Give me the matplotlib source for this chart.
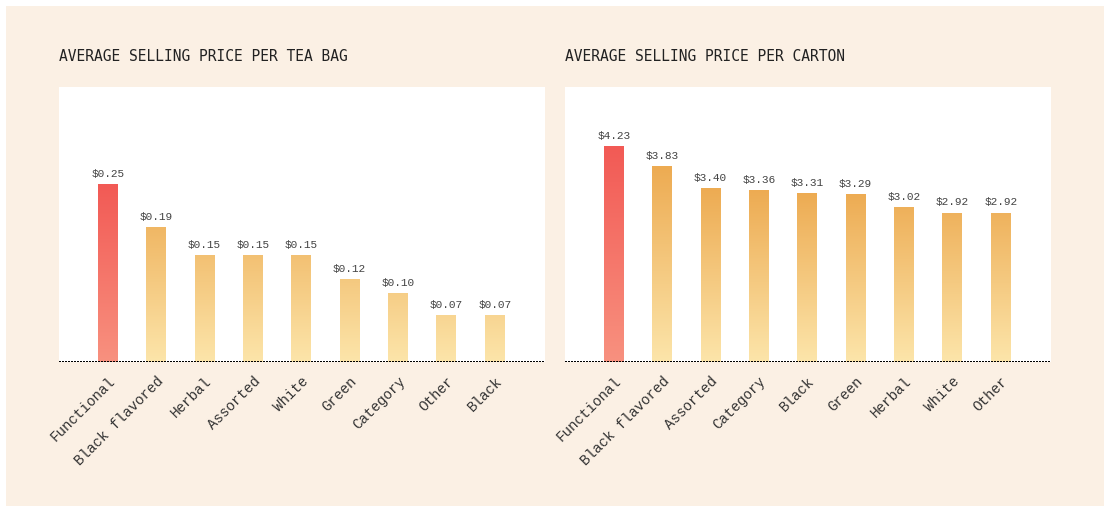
import numpy as np
import matplotlib.pyplot as plt
from matplotlib.colors import LinearSegmentedColormap
from matplotlib.patches import Rectangle
import matplotlib.transforms as mtransforms

plt.rcParams["lines.scale_dashes"] = False

# ======================================================
# Data
# ======================================================
bag_categories = ["Functional", "Black flavored", "Herbal", "Assorted", "White",
                  "Green", "Category", "Other", "Black"]
bag_prices = [0.25, 0.19, 0.15, 0.15, 0.15, 0.117, 0.097, 0.066, 0.066]
bag_labels = ["$0.25", "$0.19", "$0.15", "$0.15", "$0.15", "$0.12", "$0.10", "$0.07", "$0.07"]

carton_categories = ["Functional", "Black flavored", "Assorted", "Category", "Black",
                     "Green", "Herbal", "White", "Other"]
carton_prices = [4.23, 3.83, 3.40, 3.36, 3.31, 3.29, 3.02, 2.92, 2.92]
carton_labels = ["$4.23", "$3.83", "$3.40", "$3.36", "$3.31", "$3.29", "$3.02", "$2.92", "$2.92"]

BG = "#FBF0E4"
RED = LinearSegmentedColormap.from_list("red", ["#F8917F", "#F25A55"])
ORANGE = LinearSegmentedColormap.from_list("orange", ["#FCE5AA", "#EDAB52"])


def gradient_bars(ax, values, ymax, width=0.41):
    # colour depends on absolute height, so short bars stay pale
    href = ymax * 0.62
    for i, v in enumerate(values):
        top = min(1.0, v / href)
        grad = np.linspace(0, top, 256).reshape(-1, 1)
        cmap = RED if i == 0 else ORANGE
        ax.imshow(grad, cmap=cmap, vmin=0, vmax=1, origin="lower", aspect="auto",
                  extent=(i - width / 2, i + width / 2, 0, v), zorder=2)


def draw_panel(fig, rect, title, cats, vals, labels, ymax):
    ax = fig.add_axes(rect)
    ax.set_facecolor("white")
    gradient_bars(ax, vals, ymax)
    for i, (v, lab) in enumerate(zip(vals, labels)):
        ax.annotate(lab, (i, v), xytext=(0, 4), textcoords="offset points",
                    ha="center", va="bottom", fontsize=8, color="#444444",
                    family="Liberation Mono")
    ax.set_xlim(-1.01, 9.04)
    ax.set_ylim(0, ymax)
    ax.axhline(0, color="black", lw=2, linestyle=(0, (0.9, 1.3)), zorder=3,
               dash_capstyle="butt", antialiased=False)
    ax.set_xticks(range(len(cats)))
    ax.set_xticklabels(cats, rotation=45, ha="right", rotation_mode="anchor",
                       fontsize=10.3, color="#333333", family="Liberation Mono")
    shift = mtransforms.ScaledTranslation(4 / 100, 0, fig.dpi_scale_trans)
    for t in ax.get_xticklabels():
        t.set_transform(t.get_transform() + shift)
    ax.tick_params(axis="x", length=0, pad=9)
    ax.set_yticks([])
    for s in ax.spines.values():
        s.set_visible(False)
    fig.text(rect[0], 0.888, title, fontsize=10.5, color="#222222",
             family="DejaVu Sans Mono", va="center", ha="left")
    return ax


fig = plt.figure(figsize=(11.06, 5.08), dpi=100)
fig.patch.set_facecolor("white")
fig.patches.append(Rectangle((6 / 1106, 2 / 508), 1098 / 1106, 500 / 508,
                             transform=fig.transFigure, facecolor=BG,
                             edgecolor="none", zorder=-10))

draw_panel(fig, [59 / 1106, 1 - 362 / 508, 486 / 1106, 275 / 508],
           "AVERAGE SELLING PRICE PER TEA BAG",
           bag_categories, bag_prices, bag_labels, 0.388)
draw_panel(fig, [565 / 1106, 1 - 362 / 508, 486 / 1106, 275 / 508],
           "AVERAGE SELLING PRICE PER CARTON",
           carton_categories, carton_prices, carton_labels, 5.39)

fig.savefig("out.png", dpi=100, facecolor="white")
